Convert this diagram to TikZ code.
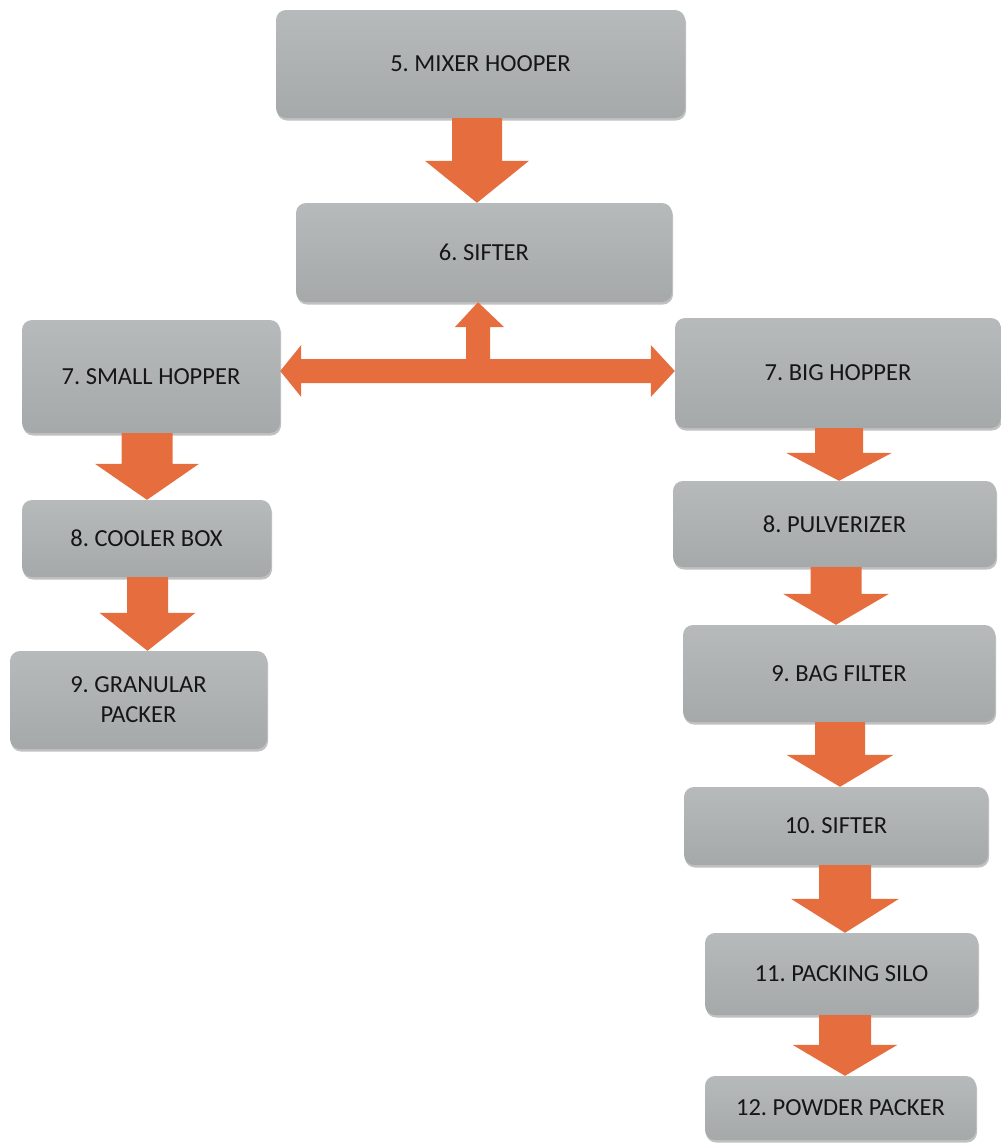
\documentclass[tikz,border=0pt]{standalone}
\usepackage{fontspec}
\setmainfont{Carlito}
\usetikzlibrary{calc,shadows}
\definecolor{boxtop}{RGB}{182,186,186}
\definecolor{boxbot}{RGB}{165,169,169}
\definecolor{arroworange}{RGB}{230,110,62}
\definecolor{txt}{RGB}{22,22,22}
\tikzset{
  stagebox/.style={rounded corners=10pt, top color=boxtop, bottom color=boxbot,
    draw=none, text=txt, align=center, inner sep=0pt,
    font=\fontsize{24.5}{30}\selectfont,
    drop shadow={opacity=0.35, shadow xshift=1pt, shadow yshift=-2.5pt, fill=black!70}},
  blockarrow/.style={fill=arroworange, draw=none}
}
% #1 top node, #2 bottom node, #3 centre x (pt), #4 shaft half width, #5 head half width, #6 head length
\newcommand\blockdown[6]{%
  \fill[blockarrow] let \p1=(#1.south), \p2=(#2.north) in
    (#3pt-#4pt,\y1) -- (#3pt+#4pt,\y1) -- (#3pt+#4pt,\y2+#6pt) -- (#3pt+#5pt,\y2+#6pt)
    -- (#3pt,\y2) -- (#3pt-#5pt,\y2+#6pt) -- (#3pt-#4pt,\y2+#6pt) -- cycle;}
\begin{document}
\frenchspacing
\begin{tikzpicture}[x=1pt,y=-1pt]
\useasboundingbox (0,0) rectangle (1001,1144);
\node[stagebox, minimum width=409pt, minimum height=108pt] (mix) at (480.5,64) {5. MIXER HOOPER};
\node[stagebox, minimum width=376pt, minimum height=99pt] (sifa) at (484,252.5) {6. SIFTER};
\node[stagebox, minimum width=258pt, minimum height=113pt] (small) at (151,376.5) {7. SMALL HOPPER};
\node[stagebox, minimum width=326pt, minimum height=110pt] (big) at (838,373) {7. BIG HOPPER};
\node[stagebox, minimum width=249pt, minimum height=77pt] (cool) at (146.5,538.5) {8. COOLER BOX};
\node[stagebox, minimum width=257pt, minimum height=98pt] (gran) at (138.5,700) {9. GRANULAR\\PACKER};
\node[stagebox, minimum width=323pt, minimum height=86pt] (pulv) at (834.5,524) {8. PULVERIZER};
\node[stagebox, minimum width=312pt, minimum height=97pt] (bag) at (839,673.5) {9. BAG FILTER};
\node[stagebox, minimum width=304pt, minimum height=78pt] (sifb) at (836,826) {10. SIFTER};
\node[stagebox, minimum width=273pt, minimum height=82pt] (silo) at (841.5,974) {11. PACKING SILO};
\node[stagebox, minimum width=271pt, minimum height=64pt] (powder) at (840.5,1108) {12. POWDER PACKER};

\blockdown{mix}{sifa}{477}{25}{52}{42}
\blockdown{small}{cool}{147}{25.5}{52}{36}
\blockdown{cool}{gran}{147.5}{20.5}{48}{38}
\blockdown{big}{pulv}{839}{24}{53}{28}
\blockdown{pulv}{bag}{836}{25.5}{53}{31}
\blockdown{bag}{sifb}{840}{25}{53.5}{32}
\blockdown{sifb}{silo}{845}{26}{54}{34}
\blockdown{silo}{powder}{845}{26}{52.5}{31}

% T-shaped distribution arrow from the sifter to both hoppers
\fill[blockarrow] let \p1=(small.east), \p2=(big.west), \p3=(sifa.south) in
  (\x1,-371pt) -- (\x1+21pt,-345pt) -- (\x1+21pt,-359pt) -- (466pt,-359pt) -- (466pt,-327pt)
  -- (455pt,-327pt) -- (478pt,\y3) -- (504pt,-327pt) -- (490pt,-327pt) -- (490pt,-359pt)
  -- (\x2-24pt,-359pt) -- (\x2-24pt,-345pt) -- (\x2,-371pt) -- (\x2-24pt,-397pt)
  -- (\x2-24pt,-383pt) -- (\x1+21pt,-383pt) -- (\x1+21pt,-397pt) -- cycle;
\end{tikzpicture}
\end{document}
